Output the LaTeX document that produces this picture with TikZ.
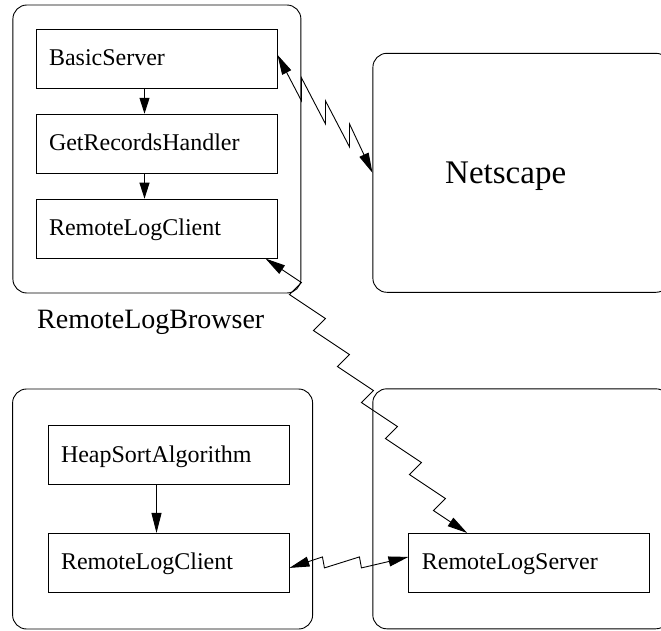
\documentclass[tikz,border=0pt]{standalone}
\usepackage{fontspec}
\setmainfont{Liberation Serif}
\usetikzlibrary{positioning,arrows.meta}
\tikzset{
    frame/.style={draw, rounded corners=14pt, inner sep=0pt},
    classbox/.style={draw, rectangle, minimum width=241pt, minimum height=59pt, inner xsep=13pt, text width=215pt, text height=17pt, text depth=3pt, font=\fontsize{24}{28}\selectfont},
    shorttip/.style={-{Triangle[length=16pt,width=10pt]}},
    tip/.style={-{Triangle[length=20pt,width=10pt]}},
    bothtips/.style={{Triangle[length=20pt,width=10pt]}-{Triangle[length=20pt,width=10pt]}}
}
\begin{document}
\begin{tikzpicture}[x=1pt, y=-1pt, line width=0.9pt]
    \useasboundingbox (0,0) rectangle (661,630);
    \node[frame, minimum width=288pt, minimum height=288pt] (browser) at (156.9,149) {};
    \node[frame, minimum width=297pt, minimum height=239pt] (ns) at (521.4,172.8) {};
    \node[frame, minimum width=300pt, minimum height=240pt] (sorter) at (162.6,509) {};
    \node[frame, minimum width=297pt, minimum height=240pt] (server) at (521.3,508.8) {};

    \node[classbox] (bs) at (156.5,58.8) {BasicServer};
    \node[classbox, below=25pt of bs] (grh) {GetRecordsHandler};
    \node[classbox, below=25pt of grh] (rlcA) {RemoteLogClient};
    \node[classbox] (hs) at (168.5,455) {HeapSortAlgorithm};
    \node[classbox, below=48pt of hs] (rlcB) {RemoteLogClient};
    \node[classbox, right=119pt of rlcB] (rls) {RemoteLogServer};

    \node[font=\fontsize{33}{38}\selectfont, right=69pt of ns.west, yshift=-3pt] (nslbl) {Netscape};
    \node[font=\fontsize{28}{32}\selectfont, anchor=base west] (browserlbl) at (33.4,328) {RemoteLogBrowser};

    \draw[shorttip] ([xshift=-12pt]bs.south) -- ([xshift=-12pt]grh.north);
    \draw[shorttip] ([xshift=-12pt]grh.south) -- ([xshift=-12pt]rlcA.north);
    \draw[tip] ([xshift=-12pt]hs.south) -- ([xshift=-12pt]rlcB.north);

    \draw[bothtips] ([yshift=4pt]bs.east) \foreach \k in {1,2,3} {-- ++(24,46) -- ++(0,-23)} -- (ns.west);
    \draw[bothtips] ([xshift=-12pt]rlcA.south east) \foreach \k in {1,...,7} {-- ++(36,24) -- ++(-12,12)} -- ([xshift=58.7pt]rls.north west);
    \draw[bothtips] ([yshift=-5pt]rlcB.east) -- ++(33,-11) -- ++(2,11) -- ++(35,-11) -- ++(2,11) -- ([yshift=6pt]rls.west);
\end{tikzpicture}
\end{document}
